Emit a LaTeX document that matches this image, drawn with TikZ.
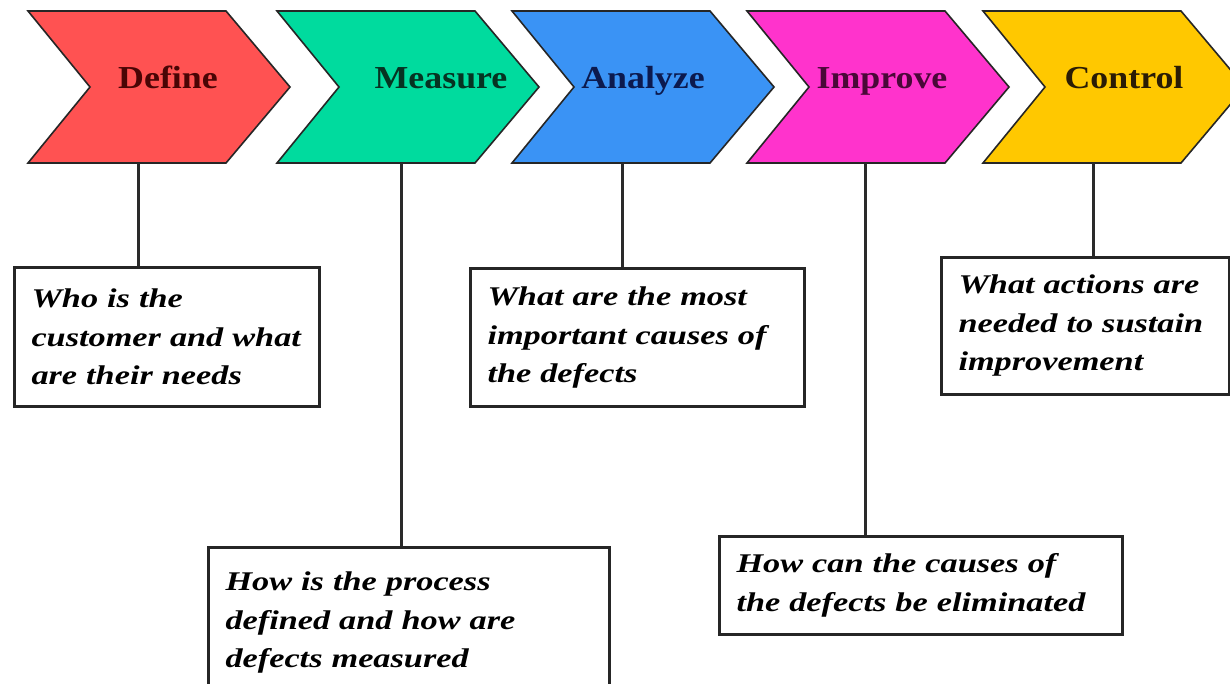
\documentclass[tikz,border=0pt]{standalone}
\usepackage{fontspec}
\setmainfont{Liberation Serif}
\newfontfamily\headfont[FakeStretch=1.12]{Liberation Serif Bold}
\newfontfamily\boxfont[FakeStretch=1.27]{Liberation Serif Bold Italic}
\definecolor{cDef}{HTML}{FF5252}
\definecolor{cMea}{HTML}{00DB9E}
\definecolor{cAna}{HTML}{3A93F5}
\definecolor{cImp}{HTML}{FF33CC}
\definecolor{cCon}{HTML}{FFC800}
\definecolor{tDef}{HTML}{4A0505}
\definecolor{tMea}{HTML}{063322}
\definecolor{tAna}{HTML}{0C1A4E}
\definecolor{tImp}{HTML}{4A0838}
\definecolor{tCon}{HTML}{2A1C05}
\definecolor{lineg}{HTML}{2A2A2A}
\begin{document}
\begin{tikzpicture}[x=1pt,y=-1pt,
  chev/.style={draw=black!85, line width=1.6pt, line join=miter},
  head/.style={anchor=base, font=\headfont\fontsize{32}{38}\selectfont, inner sep=0pt},
  qbox/.style={draw=black!85, line width=3pt, fill=white, anchor=north west,
    align=left, inner xsep=17pt, inner ysep=0pt, text width=#1-34pt, minimum width=#1,
    font=\boxfont\fontsize{27}{38.5}\selectfont},
  conn/.style={draw=lineg, line width=3pt}]
\useasboundingbox (0,0) rectangle (1230,683);
\clip (0,0) rectangle (1230,683);
\fill[white] (0,0) rectangle (1230,683);
% chevrons
\foreach \L/\c in {28/cDef, 277/cMea, 512/cAna, 747/cImp, 983/cCon}{
  \draw[chev, fill=\c] (\L,11) -- (\L+198,11) -- (\L+262,87) -- (\L+198,163)
     -- (\L,163) -- (\L+62,87) -- cycle;
}
\node[head, text=tDef] (hDef) at (168,88) {Define};
\node[head, text=tMea] (hMea) at (441,88) {Measure};
\node[head, text=tAna] (hAna) at (643,88) {Analyze};
\node[head, text=tImp] (hImp) at (882,88) {Improve};
\node[head, text=tCon] (hCon) at (1124,88) {Control};
% connector start points at chevron bottoms
\coordinate (sDef) at (138,163);
\coordinate (sMea) at (401,163);
\coordinate (sAna) at (622,163);
\coordinate (sImp) at (865,163);
\coordinate (sCon) at (1093,163);
% boxes
\node[qbox=305pt, minimum height=139pt] (bDef) at (13,266)
  {Who is the\\customer and what\\are their needs};
\node[qbox=334pt, minimum height=138pt] (bAna) at (469,267)
  {What are the most\\important causes of\\the defects};
\node[qbox=288pt, minimum height=137pt] (bCon) at (940,256)
  {What actions are\\needed to sustain\\improvement};
\node[qbox=401pt, minimum height=150pt] (bMea) at (207,546)
  {How is the process\\defined and how are\\defects measured};
\node[qbox=403pt, minimum height=98pt] (bImp) at (718,535)
  {How can the causes of\\the defects be eliminated};
% connectors
\draw[conn] (sDef) -- (sDef |- bDef.north);
\draw[conn] (sMea) -- (sMea |- bMea.north);
\draw[conn] (sAna) -- (sAna |- bAna.north);
\draw[conn] (sImp) -- (sImp |- bImp.north);
\draw[conn] (sCon) -- (sCon |- bCon.north);
\end{tikzpicture}
\end{document}
